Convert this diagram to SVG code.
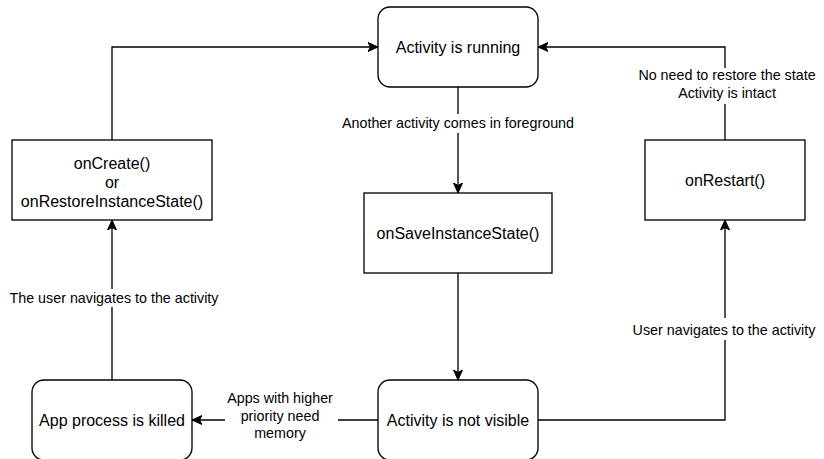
<svg xmlns="http://www.w3.org/2000/svg" width="824" height="459" viewBox="0 0 824 459">
  <style>
    .node { fill: #ffffff; stroke: #000000; stroke-width: 1.33; }
    .edge { fill: none; stroke: #000000; stroke-width: 1.33; }
    .t { font-family: "Liberation Sans", Arial, Helvetica, sans-serif; font-size: 16px; fill: #000000; text-anchor: middle; }
    .lbl { font-family: "Liberation Sans", Arial, Helvetica, sans-serif; font-size: 14.3px; fill: #000000; text-anchor: middle; }
    .bg { fill: #ffffff; stroke: none; }
  </style>
  <defs>
    <marker id="arrow" viewBox="-10 -5 10 10" refX="0" refY="0" markerWidth="10" markerHeight="10" markerUnits="userSpaceOnUse" orient="auto">
      <path d="M-10,-4.5 L0,0 L-10,4.5 L-7.5,0 Z" fill="#000000" stroke="#000000" stroke-width="1"/>
    </marker>
  </defs>
  <rect width="824" height="459" fill="#ffffff"/>

  <g id="connectors">
    <path class="edge" d="M112,140 V47 H378" marker-end="url(#arrow)"/>
    <path class="edge" d="M725,140 V47 H538" marker-end="url(#arrow)"/>
    <path class="edge" d="M458,87 V193" marker-end="url(#arrow)"/>
    <path class="edge" d="M458,273 V380" marker-end="url(#arrow)"/>
    <path class="edge" d="M378,420 H192" marker-end="url(#arrow)"/>
    <path class="edge" d="M538,420 H725 V220" marker-end="url(#arrow)"/>
    <path class="edge" d="M112,380 V220" marker-end="url(#arrow)"/>

    <rect class="bg" x="340" y="114" width="236" height="19"/>
    <text class="lbl" x="458" y="128">Another activity comes in foreground</text>

    <rect class="bg" x="636" y="68" width="182" height="36"/>
    <text class="lbl" x="727" y="80">No need to restore the state</text>
    <text class="lbl" x="727" y="97.5">Activity is intact</text>

    <rect class="bg" x="633" y="318" width="181" height="22"/>
    <text class="lbl" x="724" y="335">User navigates to the activity</text>

    <rect class="bg" x="7" y="289" width="215" height="18"/>
    <text class="lbl" x="114" y="303">The user navigates to the activity</text>

    <rect class="bg" x="225" y="389" width="113" height="54"/>
    <text class="lbl" x="280" y="403">Apps with higher</text>
    <text class="lbl" x="280" y="420.5">priority need</text>
    <text class="lbl" x="280" y="438">memory</text>
  </g>

  <g id="node-running">
    <rect class="node" x="378" y="7" width="160" height="80" rx="12" ry="12"/>
    <text class="t" x="458" y="52.5">Activity is running</text>
  </g>
  <g id="node-oncreate">
    <rect class="node" x="12" y="140" width="200" height="80"/>
    <text class="t" x="112" y="168.5">onCreate()</text>
    <text class="t" x="112" y="187.5">or</text>
    <text class="t" x="112" y="206.5">onRestoreInstanceState()</text>
  </g>
  <g id="node-onrestart">
    <rect class="node" x="645" y="140" width="160" height="80"/>
    <text class="t" x="725" y="185.5">onRestart()</text>
  </g>
  <g id="node-onsave">
    <rect class="node" x="364" y="193" width="188" height="80"/>
    <text class="t" x="458" y="238.5">onSaveInstanceState()</text>
  </g>
  <g id="node-notvisible">
    <rect class="node" x="378" y="380" width="160" height="80" rx="12" ry="12"/>
    <text class="t" x="458" y="425.5">Activity is not visible</text>
  </g>
  <g id="node-killed">
    <rect class="node" x="32" y="380" width="160" height="80" rx="12" ry="12"/>
    <text class="t" x="112" y="425.5">App process is killed</text>
  </g>
</svg>
